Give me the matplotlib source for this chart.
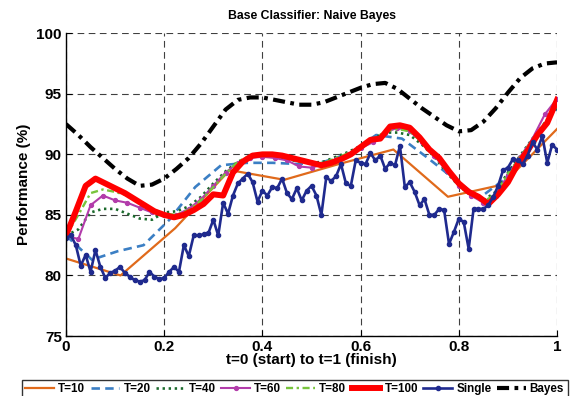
import numpy as np
import matplotlib
matplotlib.use("Agg")
import matplotlib.pyplot as plt

plt.rcParams['font.family'] = ['Liberation Sans', 'DejaVu Sans']
plt.rcParams['font.weight'] = 'bold'

# T=10 ensemble (10 points)
t10 = [81.4, 80.0, 83.9, 88.7, 87.9, 89.2, 90.4, 86.5, 87.5, 92.1]

# T=20 ensemble (20 points)
t20 = [83.3, 81.3, 82.0, 82.5, 84.6, 87.3, 89.1, 89.3, 89.3, 89.2,
       89.4, 90.1, 91.6, 91.3, 89.7, 88.0, 86.4, 88.0, 91.0, 93.8]

# T=40 / T=60 / T=80 sampled every 0.025
t40 = [83.3, 83.8, 85.2, 85.5, 85.5, 85.1, 84.7, 84.6, 85.2, 85.3,
       85.7, 86.5, 87.6, 88.6, 89.4, 89.8, 89.9, 89.8, 89.6, 89.4,
       89.3, 89.4, 89.8, 90.2, 90.7, 91.3, 91.8, 91.8, 91.6, 90.8,
       89.8, 88.5, 87.4, 86.6, 86.2, 86.9, 88.5, 89.9, 91.3, 92.6, 93.9]
t60 = [83.3, 83.0, 85.8, 86.6, 86.2, 86.0, 85.6, 85.2, 85.0, 85.0,
       85.5, 86.3, 87.4, 88.5, 89.3, 89.7, 89.8, 89.7, 89.5, 89.0,
       88.9, 89.2, 89.6, 90.0, 90.5, 91.0, 91.8, 92.2, 91.9, 91.0,
       89.9, 88.6, 87.4, 86.6, 86.0, 86.6, 88.3, 89.8, 91.3, 93.3, 94.6]
t80 = [83.3, 85.0, 86.8, 87.1, 86.9, 86.6, 86.1, 85.5, 85.1, 85.0,
       85.4, 86.2, 87.3, 88.4, 89.4, 89.9, 90.0, 89.9, 89.8, 89.4,
       89.3, 89.3, 89.7, 90.1, 90.6, 91.2, 91.9, 92.1, 91.9, 91.0,
       90.0, 88.7, 87.6, 86.7, 86.1, 86.7, 88.4, 89.8, 91.2, 92.6, 94.0]

# T=100 sampled every 0.02
t100 = [83.3, 85.3, 87.4, 88.0, 87.6, 87.2, 86.8, 86.3, 85.8, 85.3,
        85.0, 84.8, 85.0, 85.4, 85.9, 86.7, 86.6, 88.5, 89.4, 89.9,
        90.0, 90.0, 89.9, 89.7, 89.5, 89.3, 89.1, 89.3, 89.6, 90.0,
        90.6, 91.2, 91.3, 92.3, 92.4, 92.2, 91.4, 90.4, 89.7, 88.6,
        87.6, 86.9, 86.5, 85.9, 86.7, 87.7, 89.2, 90.3, 91.6, 92.6, 94.5]

# single classifier, every 0.01
single = [83.1, 83.3, 82.5, 80.8, 81.7, 80.3, 82.1, 80.7, 79.8, 80.2,
          80.4, 80.7, 80.2, 79.9, 79.6, 79.5, 79.6, 80.3, 79.9, 79.7,
          79.8, 80.3, 80.7, 80.3, 82.5, 81.6, 83.3, 83.3, 83.4, 83.5,
          84.6, 83.3, 86.0, 85.1, 86.6, 87.6, 88.0, 88.4, 87.7, 86.1,
          87.0, 86.6, 87.3, 87.2, 88.0, 86.8, 86.3, 87.2, 86.2, 87.0,
          87.4, 86.6, 85.0, 88.1, 87.8, 88.2, 89.2, 87.6, 87.4, 89.5,
          89.3, 89.2, 90.1, 89.5, 89.9, 88.8, 89.3, 89.1, 90.7, 87.3,
          87.7, 86.9, 85.8, 86.3, 85.0, 85.0, 85.5, 85.4, 82.6, 83.6,
          84.7, 84.4, 82.2, 85.5, 85.5, 85.5, 85.8, 86.5, 87.4, 88.7,
          88.9, 89.6, 89.5, 89.2, 89.9, 91.0, 90.4, 91.5, 89.3, 90.8, 90.4]

# Bayes optimal, every 0.025
bayes = [92.5, 91.6, 90.6, 89.7, 88.8, 88.0, 87.4, 87.5, 88.0, 88.8,
         89.7, 90.9, 92.3, 93.7, 94.5, 94.7, 94.7, 94.5, 94.3, 94.1,
         94.1, 94.3, 94.7, 95.1, 95.5, 95.8, 95.9, 95.4, 94.6, 93.8,
         93.1, 92.4, 91.9, 92.0, 92.7, 93.8, 95.1, 96.3, 97.1, 97.5, 97.6]

xticks = [0, 0.2, 0.4, 0.6, 0.8, 1]
xticklabels = ['0', '0.2', '0.4', '0.6', '0.8', '1']
yticks = [75, 80, 85, 90, 95, 100]


def grid_x(vals):
    return np.linspace(0, 1, len(vals))


fig = plt.figure(figsize=(5.75, 3.96), dpi=100)
ax = fig.add_axes([0.1148, 0.1515, 0.854, 0.7645])

h10, = ax.plot(grid_x(t10), t10, color='#e06a1b', lw=1.6, label='T=10')
h20, = ax.plot(grid_x(t20), t20, color='#3b7fc4', lw=1.9,
               linestyle=(0, (3.2, 2.0)), label='T=20')
h40, = ax.plot(grid_x(t40), t40, color='#1b6a2c', lw=1.9,
               linestyle=(0, (0.9, 1.4)), label='T=40')
h60, = ax.plot(grid_x(t60), t60, color='#b23caa', lw=1.5, marker='o',
               markersize=2.8, label='T=60')
h80, = ax.plot(grid_x(t80), t80, color='#78c43c', lw=1.7,
               linestyle=(0, (3.0, 1.5, 1.0, 1.5)), label='T=80')
h100, = ax.plot(grid_x(t100), t100, color='#ff0000', lw=4.3, label='T=100')
hs, = ax.plot(grid_x(single), single, color='#1f2a8e', lw=1.9, marker='o',
              markersize=3, label='Single')
hb, = ax.plot(grid_x(bayes), bayes, color='black', lw=3.0,
              linestyle=(0, (2.9, 1.3, 0.9, 1.3)), label='Bayes')

ax.set_xlim(0, 1)
ax.set_ylim(75, 100)
ax.set_xticks(xticks)
ax.set_xticklabels(xticklabels)
ax.set_yticks(yticks)
ax.tick_params(direction='in', length=4, width=0.8, labelsize=11, pad=3,
               top=False, right=False)
for lab in ax.get_xticklabels() + ax.get_yticklabels():
    lab.set_fontweight('bold')

ax.spines['top'].set_visible(False)
ax.spines['right'].set_visible(False)
ax.spines['left'].set_linewidth(1.0)
ax.spines['bottom'].set_linewidth(1.0)

ax.grid(True, color='0.25', lw=0.8, linestyle=(0, (6, 4)))
ax.set_axisbelow(True)

ax.set_title('Base Classifier: Naive Bayes', fontsize=8.8, fontweight='bold', pad=10.5)
ax.set_xlabel('t=0 (start) to t=1 (finish)', fontsize=11, fontweight='bold', labelpad=-1)
ax.set_ylabel('Performance (%)', fontsize=11, fontweight='bold', labelpad=4)

leg = fig.legend(handles=[h10, h20, h40, h60, h80, h100, hs, hb],
                 loc='upper left', bbox_to_anchor=(16 / 575, 1 - 374 / 396),
                 ncol=8, fontsize=8.4, handlelength=2.47, handletextpad=0.35,
                 columnspacing=0.46, borderpad=0.3, numpoints=1,
                 frameon=True, fancybox=False)
leg.get_frame().set_edgecolor('black')
leg.get_frame().set_linewidth(1.0)
for txt in leg.get_texts():
    txt.set_fontweight('bold')

fig.savefig('out.png', dpi=100)
